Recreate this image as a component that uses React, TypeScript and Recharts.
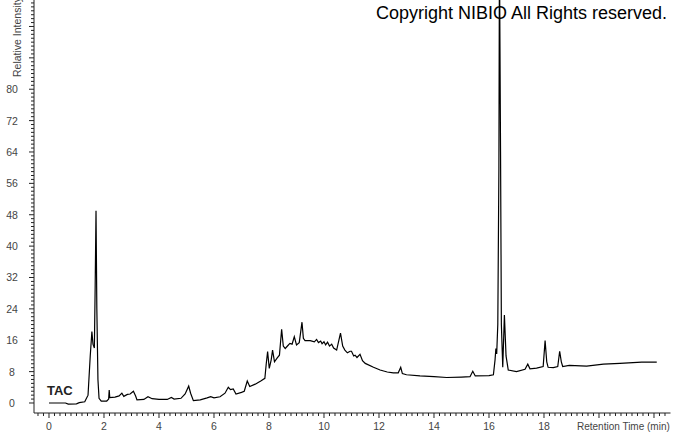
import { Line, LineChart, XAxis, YAxis } from 'recharts'

// retention time (min) and relative intensity
const TIMES = [
  0.0, 0.6, 0.7, 1.0, 1.1, 1.3, 1.42, 1.5, 1.56, 1.6, 1.65, 1.68, 1.71, 1.74, 1.78, 1.82, 1.9, 2.1, 2.17, 2.19,
  2.21, 2.4, 2.55, 2.65, 2.72, 2.85, 2.95, 3.07, 3.15, 3.2, 3.45, 3.6, 3.75, 4.0, 4.3, 4.45, 4.55, 4.8, 4.95, 5.08,
  5.15, 5.25, 5.5, 5.75, 5.88, 6.0, 6.22, 6.4, 6.52, 6.6, 6.7, 6.8, 7.0, 7.1, 7.21, 7.3, 7.5, 7.7, 7.85, 7.9,
  7.95, 8.01, 8.08, 8.13, 8.2, 8.3, 8.38, 8.46, 8.52, 8.59, 8.68, 8.76, 8.84, 8.92, 9.0, 9.1, 9.2, 9.25, 9.31, 9.5,
  9.65, 9.73, 9.8, 9.88, 9.93, 10.0, 10.06, 10.13, 10.2, 10.28, 10.35, 10.46, 10.6, 10.68, 10.76, 10.85, 10.95, 11.0, 11.08, 11.13,
  11.2, 11.31, 11.4, 11.5, 11.8, 12.04, 12.3, 12.52, 12.7, 12.79, 12.85, 13.0, 13.49, 14.0, 14.46, 15.0, 15.31, 15.41, 15.5, 16.0,
  16.16, 16.22, 16.25, 16.28, 16.32, 16.36, 16.38, 16.42, 16.45, 16.5, 16.56, 16.62, 16.7, 17.0, 17.31, 17.41, 17.49, 17.73, 17.97, 18.04,
  18.1, 18.15, 18.34, 18.5, 18.57, 18.63, 18.68, 18.92, 19.55, 20.16, 20.76, 21.55, 22.1
]
const INTENSITY = [
  0.0, 0.0, -0.3, -0.2, 0.1, 0.3, 2.0, 12, 18.2, 15, 14, 30, 49, 24, 6, 1.2, 0.5, 0.5, 1.0, 3.3,
  1.4, 1.5, 1.8, 2.5, 1.7, 2.2, 2.3, 3.0, 1.8, 0.8, 0.9, 1.6, 1.1, 0.9, 0.9, 1.4, 1.0, 1.2, 2.3, 4.3,
  2.5, 0.6, 0.8, 1.3, 1.6, 1.3, 1.6, 2.5, 4.0, 3.4, 3.6, 2.3, 2.7, 3.0, 5.6, 4.2, 4.8, 5.6, 6.3, 10,
  13.1, 8.8, 11, 13.5, 10.5, 11.5, 12.2, 18.8, 14.5, 13.9, 14.6, 15.2, 15, 16.9, 14.8, 15.4, 20.6, 16.5, 15.9, 15.9,
  15.6, 16.2, 15.4, 15.8, 15.1, 15.6, 14.8, 15.5, 14.5, 15.0, 14.0, 13.5, 17.8, 14.5, 13.5, 12.8, 13.2, 13.2, 12.0, 12.2,
  11.6, 12.4, 10.8, 10.1, 9.1, 8.4, 7.9, 7.7, 7.7, 9.1, 7.5, 7.2, 6.9, 6.7, 6.5, 6.6, 6.7, 8.1, 6.9, 7.0,
  7.2, 11, 13.9, 12.5, 20, 60, 115, 64, 20, 9.1, 22.4, 12, 8.4, 8.0, 8.6, 9.9, 8.7, 8.9, 9.3, 15.9,
  10.5, 9.1, 9.0, 9.3, 13.2, 10.5, 9.3, 9.6, 9.4, 9.9, 10.1, 10.4, 10.4
]

const X_TICKS = Array.from({ length: 115 }, (_, i) => Math.round((i - 2) * 2) / 10) // -0.4 .. 22.4 every 0.2
const X_LABELS = [0, 2, 4, 6, 8, 10, 12, 14, 16, 18]
const Y_TICKS = Array.from({ length: 103 }, (_, i) => i) // 0 .. 102 every 1
const Y_LABELS = [0, 8, 16, 24, 32, 40, 48, 56, 64, 72, 80]

const data = TIMES.map((t, i) => ({ t, v: INTENSITY[i] }))

const AXIS = '#222'
const LABEL = '#444'
const FONT = '"Liberation Sans", Arial, sans-serif'

function XTick({ x, y, payload }: any) {
  const val = payload.value
  const major = Math.abs(val / 2 - Math.round(val / 2)) < 1e-6
  return (
    <g>
      <line x1={x} x2={x} y1={y} y2={y + (major ? 5 : 3)} stroke={AXIS} strokeWidth={1} />
      {X_LABELS.includes(val) && (
        <text x={x} y={y + 17} textAnchor="middle" fontSize={10.5} fontFamily={FONT} fill={LABEL}>
          {val}
        </text>
      )}
    </g>
  )
}

function YTick({ x, y, payload }: any) {
  const val = payload.value
  const major = val % 8 === 0
  return (
    <g>
      <line x1={x - (major ? 5 : 3)} x2={x} y1={y} y2={y} stroke={AXIS} strokeWidth={1} />
      {Y_LABELS.includes(val) && (
        <text x={12} y={y + 4} textAnchor="middle" fontSize={10.5} fontFamily={FONT} fill={LABEL}>
          {val}
        </text>
      )}
    </g>
  )
}

export default function App() {
  return (
    <div style={{ position: 'absolute', left: 0, top: 0, width: 673, height: 433, background: '#fff', overflow: 'hidden' }}>
      <LineChart width={673} height={433} data={data} margin={{ top: 0, right: 2.5, bottom: 0, left: 0 }}>
        <XAxis
          type="number"
          dataKey="t"
          domain={[-0.545, 22.6]}
          allowDataOverflow
          ticks={X_TICKS}
          interval={0}
          tickSize={0}
          tickMargin={0}
          tick={<XTick />}
          height={20}
          stroke={AXIS}
        />
        <YAxis
          type="number"
          domain={[-2.55, 102.75]}
          allowDataOverflow
          ticks={Y_TICKS}
          interval={0}
          tickSize={0}
          tickMargin={0}
          tick={<YTick />}
          width={34}
          stroke={AXIS}
        />
        <Line
          type="linear"
          dataKey="v"
          stroke="#000"
          strokeWidth={1.2}
          dot={false}
          activeDot={false}
          isAnimationActive={false}
        />
      </LineChart>
      <div
        style={{
          position: 'absolute',
          left: 376,
          top: 2,
          fontFamily: FONT,
          fontSize: 18,
          color: '#000',
          whiteSpace: 'nowrap',
          lineHeight: '22px'
        }}
      >
        Copyright NIBIO All Rights reserved.
      </div>
      <div
        style={{
          position: 'absolute',
          left: 47,
          top: 383,
          fontFamily: FONT,
          fontSize: 13,
          fontWeight: 'bold',
          color: '#222',
          lineHeight: '16px'
        }}
      >
        TAC
      </div>
      <div
        style={{
          position: 'absolute',
          left: 577,
          top: 420,
          fontFamily: FONT,
          fontSize: 10,
          color: LABEL,
          whiteSpace: 'nowrap',
          lineHeight: '13px'
        }}
      >
        Retention Time (min)
      </div>
      <div
        style={{
          position: 'absolute',
          left: 11,
          top: 77,
          fontFamily: FONT,
          fontSize: 10.5,
          color: LABEL,
          whiteSpace: 'nowrap',
          lineHeight: '13px',
          transform: 'rotate(-90deg)',
          transformOrigin: '0 0'
        }}
      >
        Relative Intensity
      </div>
    </div>
  )
}
